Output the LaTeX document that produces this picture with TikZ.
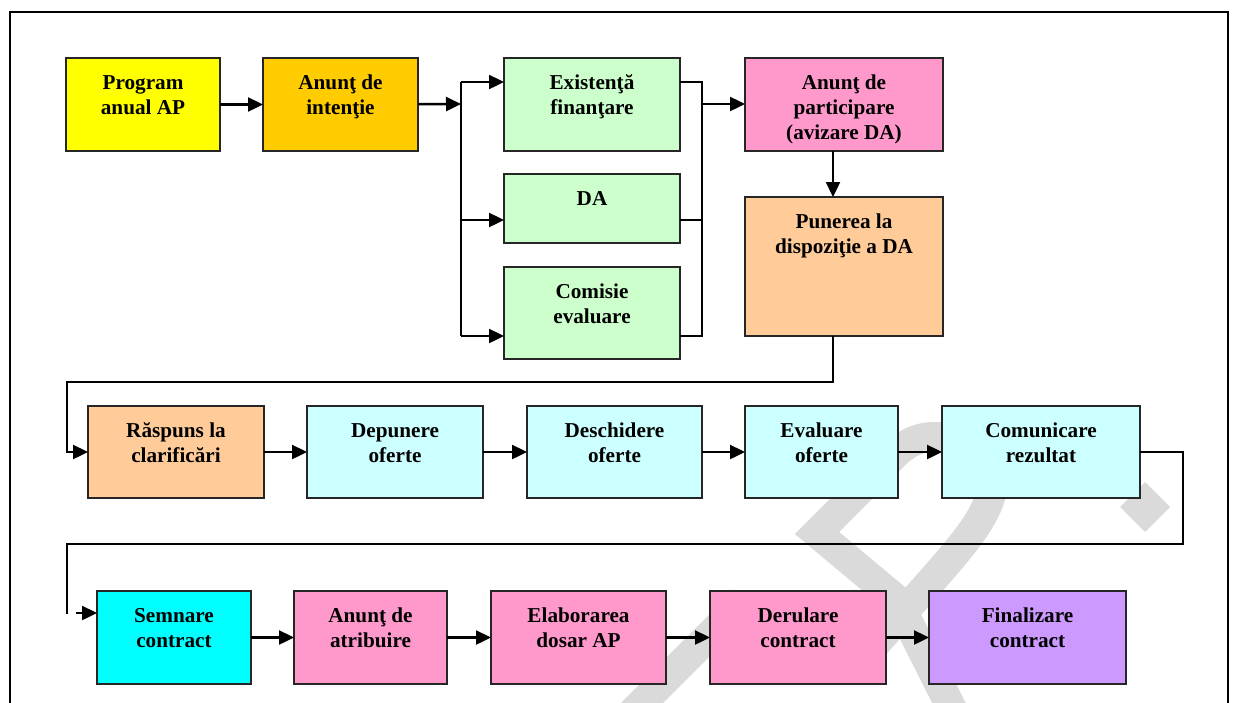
\documentclass[tikz,border=0pt]{standalone}
\usepackage{fontspec}
\setmainfont{Liberation Serif}
\usetikzlibrary{arrows.meta}

\definecolor{fillYellow}{HTML}{FFFF00}
\definecolor{fillGold}{HTML}{FFCC00}
\definecolor{fillGreen}{HTML}{CCFFCC}
\definecolor{fillPink}{HTML}{FF99CC}
\definecolor{fillPeach}{HTML}{FFCC99}
\definecolor{fillIce}{HTML}{CCFFFF}
\definecolor{fillCyan}{HTML}{00FFFF}
\definecolor{fillLilac}{HTML}{CC99FF}
\definecolor{markGray}{HTML}{DADADA}

% box: name, x1, y1, x2, y2, fill, text (text set near the top edge)
\newcommand{\procbox}[7]{%
  \node[box, fill=#6, minimum width={#4-#2}, minimum height={#5-#3}]
    (#1) at ({(#2+#4)/2},{(#3+#5)/2}) {};
  \node[txt] (#1t) at ({(#2+#4)/2},{#3+13.5}) {\strut #7};
}

\begin{document}
\begin{tikzpicture}[x=1pt,y=-1pt,
  box/.style={draw=black!85, line width=1.8pt, inner sep=0pt, outer sep=0pt},
  txt/.style={anchor=north, align=center, inner sep=0pt,
    font=\bfseries\fontsize{21.2}{25}\selectfont},
  flow/.style={line width=2.4pt, -{Triangle[length=15pt,width=14pt]}},
  link/.style={line width=1.8pt},
  wm/.style={draw=markGray, line width=30pt, line join=miter}
]
\useasboundingbox (0,0) rectangle (1237,702);

% background mark
\draw[wm] (610,735) -- (745,600);
\draw[wm] (955,715) -- (897,600) -- (817,533) -- (866,484)
  .. controls (895,455) and (905,437) .. (935,437)
  .. controls (985,437) and (1005,470) .. (985,510)
  .. controls (970,540) and (945,565) .. (870,650);
\fill[markGray] (1145,482) -- (1170,507) -- (1145,532) -- (1120,507) -- cycle;

% frame
\draw[line width=2pt] (10,705) -- (10,12) -- (1228,12) -- (1228,705);

% row 1
\procbox{b1}{66}{58}{220}{151}{fillYellow}{Program\\anual AP}
\procbox{b2}{263}{58}{418}{151}{fillGold}{Anunţ de\\intenţie}
\procbox{g1}{504}{58}{680}{151}{fillGreen}{Existenţă\\finanţare}
\procbox{g2}{504}{174}{680}{243}{fillGreen}{DA}
\procbox{g3}{504}{267}{680}{359}{fillGreen}{Comisie\\evaluare}
\procbox{p1}{745}{58}{943}{151}{fillPink}{Anunţ de\\participare\\(avizare DA)}
\procbox{o1}{745}{197}{943}{336}{fillPeach}{Punerea la\\dispoziţie a DA}

% row 2
\procbox{r1}{88}{406}{264}{498}{fillPeach}{Răspuns la\\clarificări}
\procbox{c1}{307}{406}{483}{498}{fillIce}{Depunere\\oferte}
\procbox{c2}{527}{406}{702}{498}{fillIce}{Deschidere\\oferte}
\procbox{c3}{745}{406}{898}{498}{fillIce}{Evaluare\\oferte}
\procbox{c4}{942}{406}{1140}{498}{fillIce}{Comunicare\\rezultat}

% row 3
\procbox{s1}{97}{591}{251}{684}{fillCyan}{Semnare\\contract}
\procbox{s2}{294}{591}{447}{684}{fillPink}{Anunţ de\\atribuire}
\procbox{s3}{491}{591}{666}{684}{fillPink}{Elaborarea\\dosar AP}
\procbox{s4}{710}{591}{886}{684}{fillPink}{Derulare\\contract}
\procbox{s5}{929}{591}{1126}{684}{fillLilac}{Finalizare\\contract}

% junction points
\coordinate (sL)  at (461,104);
\coordinate (sLt) at (461,82);
\coordinate (sLm) at (461,220);
\coordinate (sLb) at (461,336);
\coordinate (sRt) at (702,82);
\coordinate (sRm) at (702,220);
\coordinate (sRb) at (702,336);
\coordinate (sRo) at (702,104);
\coordinate (pd)  at (833,0);
\coordinate (l1)  at (833,382);
\coordinate (l2)  at (67,382);
\coordinate (l3)  at (67,452);
\coordinate (m1)  at (1183,452);
\coordinate (m2)  at (1183,544);
\coordinate (m3)  at (67,544);
\coordinate (m4)  at (67,614);
\coordinate (m5)  at (76,613);

% row 1 connectors
\draw[flow] (b1) -- (b2);
\draw[flow] (b2) -- (sL);
\draw[link] (sLt) -- (sLb);
\draw[flow] (sLt) -- (sLt -| g1.west);
\draw[flow] (sLm) -- (sLm -| g2.west);
\draw[flow] (sLb) -- (sLb -| g3.west);
\draw[link] (g1.east |- sRt) -- (sRt) -- (sRb) -- (g3.east |- sRb);
\draw[link] (g2.east |- sRm) -- (sRm);
\draw[flow] (sRo) -- (sRo -| p1.west);
\draw[flow] (p1.south -| pd) -- (o1.north -| pd);
\draw[flow] (o1.south -| l1) -- (l1) -- (l2) -- (l3) -- (l3 -| r1.west);

% row 2 connectors
\draw[flow] (r1) -- (c1);
\draw[flow] (c1) -- (c2);
\draw[flow] (c2) -- (c3);
\draw[flow] (c3) -- (c4);
\draw[link] (c4.east |- m1) -- (m1) -- (m2) -- (m3) -- (m4);
\draw[flow] (m5) -- (m5 -| s1.west);

% row 3 connectors
\draw[flow] (s1) -- (s2);
\draw[flow] (s2) -- (s3);
\draw[flow] (s3) -- (s4);
\draw[flow] (s4) -- (s5);
\end{tikzpicture}
\end{document}
